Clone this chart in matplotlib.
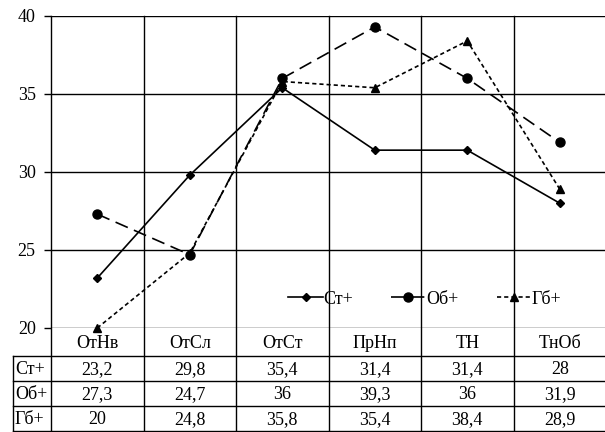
import matplotlib
matplotlib.use('Agg')
import matplotlib.pyplot as plt
from matplotlib.lines import Line2D

plt.rcParams['font.family'] = ['Liberation Serif', 'DejaVu Serif']
plt.rcParams['font.size'] = 13

# data
categories = ['ОтНв', 'ОтСл', 'ОтСт', 'ПрНп', 'ТН', 'ТнОб']
series_names = ['Ст+', 'Об+', 'Гб+']
st_plus = [23.2, 29.8, 35.4, 31.4, 31.4, 28]
ob_plus = [27.3, 24.7, 36, 39.3, 36, 31.9]
gb_plus = [20, 24.8, 35.8, 35.4, 38.4, 28.9]
y_ticks = [20, 25, 30, 35, 40]

W, H = 605, 432
fig = plt.figure(figsize=(W / 100, H / 100), dpi=100)

# axes in pixel units (left, top, right, bottom)
ax_l, ax_t, ax_r, ax_b = 51, 16, 606, 328
ax = fig.add_axes([ax_l / W, 1 - ax_b / H, (ax_r - ax_l) / W, (ax_b - ax_t) / H])
ax.set_xlim(-0.5, len(categories) - 0.5)
ax.set_ylim(20, 40)
for sp in ax.spines.values():
    sp.set_visible(False)
ax.set_xticks([])
ax.set_yticks(y_ticks)
ax.tick_params(axis='y', length=5, width=1, pad=6, labelsize=13)
ax.set_yticklabels([str(t) for t in y_ticks])
for t in y_ticks:
    ax.axhline(t, color='black', lw=1, zorder=1)

x = list(range(len(categories)))
ax.plot(x, st_plus, color='black', lw=1.2, marker='D', ms=4.5, label=series_names[0], zorder=3, clip_on=False)
ax.plot(x, ob_plus, color='black', lw=1.2, marker='o', ms=6.5, dashes=(8, 4), label=series_names[1], zorder=3, clip_on=False)
ax.plot(x, gb_plus, color='black', lw=1.2, marker='^', ms=6, dashes=(2.5, 1.8), label=series_names[2], zorder=3, clip_on=False)

ax.legend(loc='center', bbox_to_anchor=((425 - ax_l) / (ax_r - ax_l), (ax_b - 299) / (ax_b - ax_t)),
          ncol=3, frameon=False, handlelength=1.9, handletextpad=0.05, columnspacing=2.1,
          fontsize=13, borderpad=0)


def fx(px):
    return px / W


def fy(py):
    return 1 - py / H


# vertical lines: left edge and category boundaries, through the table
col_w = (ax_r - ax_l) / len(categories)
for k in range(len(categories) + 1):
    xp = ax_l + k * col_w
    fig.add_artist(Line2D([fx(xp), fx(xp)], [fy(ax_t), fy(H + 5)], color='black', lw=1,
                          transform=fig.transFigure))

# table
tab_l = 13
row_edges = [328, 356, 381, 406, 431]
for yp in row_edges[1:]:
    fig.add_artist(Line2D([fx(tab_l), fx(W + 5)], [fy(yp), fy(yp)], color='black', lw=1,
                          transform=fig.transFigure))
fig.add_artist(Line2D([fx(tab_l), fx(tab_l)], [fy(row_edges[1]), fy(H + 5)], color='black', lw=1,
                      transform=fig.transFigure))

for i, c in enumerate(categories):
    cx = ax_l + (i + 0.5) * col_w
    fig.text(fx(cx), fy((row_edges[0] + row_edges[1]) / 2 + 1), c, ha='center', va='center', fontsize=13)

rows = [st_plus, ob_plus, gb_plus]
for r, (name, vals) in enumerate(zip(series_names, rows)):
    cy = (row_edges[r + 1] + row_edges[r + 2]) / 2 + 1
    fig.text(fx(tab_l + 2), fy(cy), name, ha='left', va='center', fontsize=13)
    for i, v in enumerate(vals):
        cx = ax_l + (i + 0.5) * col_w
        fig.text(fx(cx), fy(cy), str(v).replace('.', ','), ha='center', va='center', fontsize=13)

fig.savefig('out.png', dpi=100)
